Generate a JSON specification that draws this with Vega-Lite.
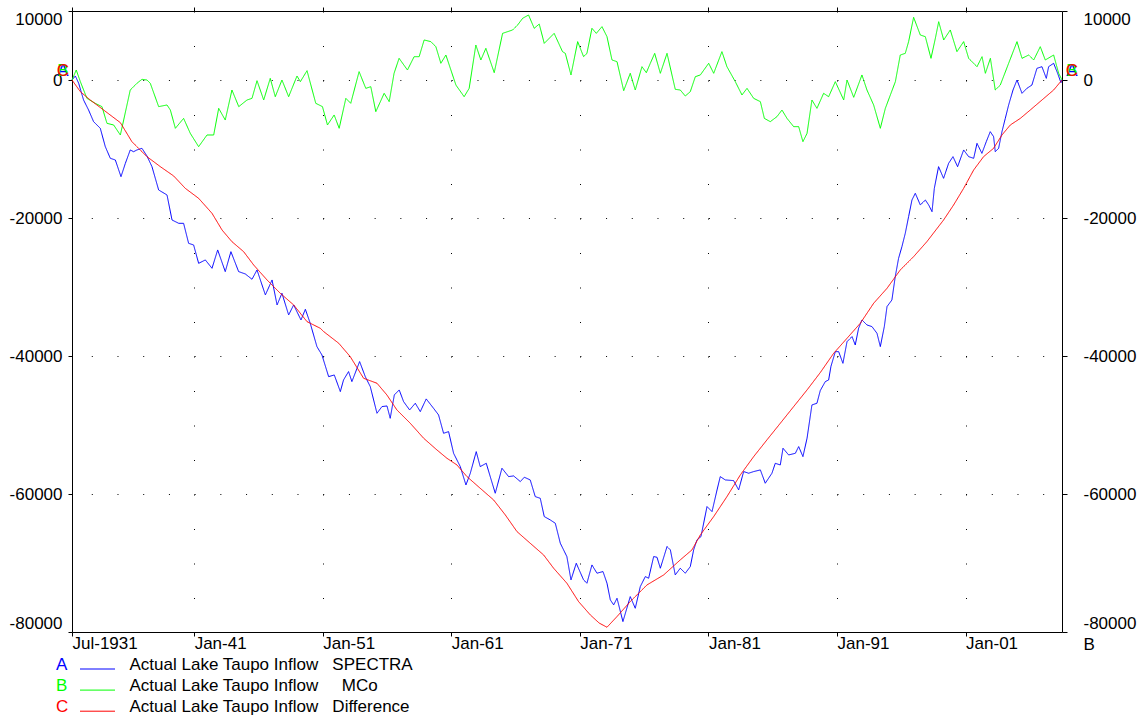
{
"$schema": "https://vega.github.io/schema/vega-lite/v6.json",
"width": 990, "height": 621,
"autosize": {"type": "none"},
"padding": {"left": 72, "top": 11, "right": 82, "bottom": 84},
"background": "white",
"config": {
  "font": "Liberation Sans",
  "view": {"stroke": null},
  "axis": {"labelFont": "Liberation Sans", "labelFontSize": 17, "labelColor": "black", "domainColor": "black", "tickColor": "black", "domainWidth": 1, "tickWidth": 1, "labelOverlap": false},
  "legend": {"labelFont": "Liberation Sans", "labelFontSize": 17, "labelColor": "black"}
},
"datasets": {"names": [
  {"s": "A", "name": "Actual Lake Taupo Inflow\u00a0\u00a0\u00a0SPECTRA"},
  {"s": "B", "name": "Actual Lake Taupo Inflow\u00a0\u00a0\u00a0\u00a0\u00a0MCo"},
  {"s": "C", "name": "Actual Lake Taupo Inflow\u00a0\u00a0\u00a0Difference"}
]},
"data": {"values": [
{"s":"A","t":1931.5,"v":0},{"s":"A","t":1931.76,"v":580},{"s":"A","t":1932.02,"v":-480},{"s":"A","t":1932.4,"v":-2900},{"s":"A","t":1932.79,"v":-4350},{"s":"A","t":1933.18,"v":-6040},{"s":"A","t":1933.7,"v":-7000},{"s":"A","t":1934.09,"v":-9660},{"s":"A","t":1934.48,"v":-11350},{"s":"A","t":1934.87,"v":-11590},{"s":"A","t":1935.31,"v":-14010},{"s":"A","t":1935.65,"v":-12080},{"s":"A","t":1936.03,"v":-10140},{"s":"A","t":1936.29,"v":-10390},{"s":"A","t":1936.55,"v":-10140},{"s":"A","t":1936.94,"v":-9900},{"s":"A","t":1937.33,"v":-11010},{"s":"A","t":1937.72,"v":-12560},{"s":"A","t":1938.24,"v":-15940},{"s":"A","t":1938.89,"v":-16660},{"s":"A","t":1939.28,"v":-20290},{"s":"A","t":1939.8,"v":-20770},{"s":"A","t":1940.18,"v":-20770},{"s":"A","t":1940.57,"v":-23670},{"s":"A","t":1940.96,"v":-23910},{"s":"A","t":1941.35,"v":-26570},{"s":"A","t":1941.87,"v":-26080},{"s":"A","t":1942.39,"v":-27290},{"s":"A","t":1942.83,"v":-24630},{"s":"A","t":1943.42,"v":-27770},{"s":"A","t":1943.86,"v":-24880},{"s":"A","t":1944.46,"v":-27770},{"s":"A","t":1944.98,"v":-28110},{"s":"A","t":1945.5,"v":-28880},{"s":"A","t":1945.89,"v":-27530},{"s":"A","t":1946.54,"v":-31150},{"s":"A","t":1947.06,"v":-28980},{"s":"A","t":1947.45,"v":-32600},{"s":"A","t":1947.83,"v":-30910},{"s":"A","t":1948.35,"v":-34050},{"s":"A","t":1948.74,"v":-32600},{"s":"A","t":1949.31,"v":-34780},{"s":"A","t":1949.65,"v":-33230},{"s":"A","t":1950.03,"v":-35260},{"s":"A","t":1950.55,"v":-38640},{"s":"A","t":1950.94,"v":-39850},{"s":"A","t":1951.46,"v":-42990},{"s":"A","t":1951.9,"v":-42750},{"s":"A","t":1952.37,"v":-45160},{"s":"A","t":1952.62,"v":-43470},{"s":"A","t":1953.01,"v":-42260},{"s":"A","t":1953.27,"v":-43710},{"s":"A","t":1953.87,"v":-40810},{"s":"A","t":1954.31,"v":-42990},{"s":"A","t":1954.7,"v":-44440},{"s":"A","t":1955.22,"v":-48300},{"s":"A","t":1955.61,"v":-47330},{"s":"A","t":1956.0,"v":-47240},{"s":"A","t":1956.25,"v":-49030},{"s":"A","t":1956.57,"v":-45640},{"s":"A","t":1956.95,"v":-44920},{"s":"A","t":1957.29,"v":-46610},{"s":"A","t":1957.76,"v":-47820},{"s":"A","t":1958.2,"v":-46850},{"s":"A","t":1958.59,"v":-48060},{"s":"A","t":1959.05,"v":-46220},{"s":"A","t":1959.62,"v":-47580},{"s":"A","t":1960.01,"v":-48540},{"s":"A","t":1960.4,"v":-51200},{"s":"A","t":1960.79,"v":-50960},{"s":"A","t":1961.18,"v":-54100},{"s":"A","t":1961.7,"v":-56030},{"s":"A","t":1962.14,"v":-58690},{"s":"A","t":1962.48,"v":-56990},{"s":"A","t":1962.94,"v":-53860},{"s":"A","t":1963.25,"v":-56030},{"s":"A","t":1963.72,"v":-55550},{"s":"A","t":1964.03,"v":-57480},{"s":"A","t":1964.42,"v":-59890},{"s":"A","t":1964.94,"v":-56270},{"s":"A","t":1965.46,"v":-57480},{"s":"A","t":1965.85,"v":-57380},{"s":"A","t":1966.37,"v":-58200},{"s":"A","t":1966.68,"v":-57570},{"s":"A","t":1967.14,"v":-57960},{"s":"A","t":1967.53,"v":-60380},{"s":"A","t":1967.92,"v":-60620},{"s":"A","t":1968.23,"v":-63270},{"s":"A","t":1968.7,"v":-63760},{"s":"A","t":1969.09,"v":-64240},{"s":"A","t":1969.48,"v":-67140},{"s":"A","t":1969.99,"v":-69070},{"s":"A","t":1970.31,"v":-72450},{"s":"A","t":1970.72,"v":-70040},{"s":"A","t":1971.29,"v":-72450},{"s":"A","t":1971.55,"v":-72930},{"s":"A","t":1971.94,"v":-70280},{"s":"A","t":1972.33,"v":-71480},{"s":"A","t":1972.8,"v":-71240},{"s":"A","t":1973.11,"v":-72930},{"s":"A","t":1973.37,"v":-75350},{"s":"A","t":1973.63,"v":-76070},{"s":"A","t":1973.89,"v":-75110},{"s":"A","t":1974.35,"v":-78490},{"s":"A","t":1974.92,"v":-74870},{"s":"A","t":1975.31,"v":-76560},{"s":"A","t":1975.7,"v":-73420},{"s":"A","t":1976.09,"v":-71970},{"s":"A","t":1976.35,"v":-72210},{"s":"A","t":1976.74,"v":-69070},{"s":"A","t":1977.0,"v":-69170},{"s":"A","t":1977.26,"v":-70760},{"s":"A","t":1977.78,"v":-67620},{"s":"A","t":1978.04,"v":-68100},{"s":"A","t":1978.42,"v":-71730},{"s":"A","t":1978.81,"v":-70760},{"s":"A","t":1979.2,"v":-71480},{"s":"A","t":1979.59,"v":-70520},{"s":"A","t":1979.85,"v":-68100},{"s":"A","t":1980.11,"v":-66650},{"s":"A","t":1980.42,"v":-66170},{"s":"A","t":1980.89,"v":-61820},{"s":"A","t":1981.28,"v":-62550},{"s":"A","t":1981.67,"v":-59410},{"s":"A","t":1981.92,"v":-57480},{"s":"A","t":1982.31,"v":-57960},{"s":"A","t":1982.96,"v":-58060},{"s":"A","t":1983.35,"v":-59410},{"s":"A","t":1983.74,"v":-56750},{"s":"A","t":1984.13,"v":-56990},{"s":"A","t":1984.52,"v":-56750},{"s":"A","t":1985.04,"v":-56510},{"s":"A","t":1985.42,"v":-58440},{"s":"A","t":1985.94,"v":-56990},{"s":"A","t":1986.2,"v":-55550},{"s":"A","t":1986.59,"v":-55790},{"s":"A","t":1986.8,"v":-53370},{"s":"A","t":1987.24,"v":-54340},{"s":"A","t":1987.76,"v":-54100},{"s":"A","t":1988.02,"v":-53130},{"s":"A","t":1988.35,"v":-54580},{"s":"A","t":1988.67,"v":-51920},{"s":"A","t":1989.05,"v":-47090},{"s":"A","t":1989.44,"v":-46850},{"s":"A","t":1989.7,"v":-45000},{"s":"A","t":1990.09,"v":-43710},{"s":"A","t":1990.35,"v":-43470},{"s":"A","t":1990.53,"v":-41500},{"s":"A","t":1990.87,"v":-39370},{"s":"A","t":1991.13,"v":-39370},{"s":"A","t":1991.46,"v":-41060},{"s":"A","t":1991.78,"v":-37920},{"s":"A","t":1992.17,"v":-37190},{"s":"A","t":1992.42,"v":-38400},{"s":"A","t":1992.68,"v":-35980},{"s":"A","t":1992.94,"v":-34780},{"s":"A","t":1993.33,"v":-35500},{"s":"A","t":1993.72,"v":-35740},{"s":"A","t":1994.11,"v":-36710},{"s":"A","t":1994.37,"v":-38640},{"s":"A","t":1994.68,"v":-35740},{"s":"A","t":1994.89,"v":-32840},{"s":"A","t":1995.27,"v":-31880},{"s":"A","t":1995.53,"v":-28500},{"s":"A","t":1995.79,"v":-25840},{"s":"A","t":1996.05,"v":-24150},{"s":"A","t":1996.31,"v":-22220},{"s":"A","t":1996.57,"v":-19800},{"s":"A","t":1996.83,"v":-17390},{"s":"A","t":1997.09,"v":-16420},{"s":"A","t":1997.48,"v":-18110},{"s":"A","t":1997.87,"v":-17390},{"s":"A","t":1998.13,"v":-18110},{"s":"A","t":1998.39,"v":-19080},{"s":"A","t":1998.57,"v":-15700},{"s":"A","t":1998.9,"v":-12560},{"s":"A","t":1999.29,"v":-14250},{"s":"A","t":1999.68,"v":-12080},{"s":"A","t":2000.02,"v":-11110},{"s":"A","t":2000.38,"v":-12560},{"s":"A","t":2000.85,"v":-10140},{"s":"A","t":2001.24,"v":-11110},{"s":"A","t":2001.63,"v":-11350},{"s":"A","t":2001.89,"v":-9180},{"s":"A","t":2002.27,"v":-10630},{"s":"A","t":2002.61,"v":-8940},{"s":"A","t":2002.92,"v":-7490},{"s":"A","t":2003.18,"v":-8210},{"s":"A","t":2003.31,"v":-10390},{"s":"A","t":2003.57,"v":-9900},{"s":"A","t":2003.83,"v":-7490},{"s":"A","t":2004.09,"v":-5560},{"s":"A","t":2004.35,"v":-3620},{"s":"A","t":2004.69,"v":-1450},{"s":"A","t":2005.0,"v":0},{"s":"A","t":2005.39,"v":-1930},{"s":"A","t":2005.77,"v":-1210},{"s":"A","t":2006.16,"v":-730},{"s":"A","t":2006.55,"v":1690},{"s":"A","t":2006.94,"v":1930},{"s":"A","t":2007.28,"v":240},{"s":"A","t":2007.46,"v":1930},{"s":"A","t":2007.85,"v":2420},{"s":"A","t":2008.16,"v":970},{"s":"A","t":2008.42,"v":-390},{"s":"A","t":2008.5,"v":0},
{"s":"B","t":1931.5,"v":0},{"s":"B","t":1931.83,"v":1450},{"s":"B","t":1932.15,"v":-240},{"s":"B","t":1932.66,"v":-2660},{"s":"B","t":1933.31,"v":-3380},{"s":"B","t":1933.83,"v":-3860},{"s":"B","t":1934.22,"v":-6280},{"s":"B","t":1934.74,"v":-6520},{"s":"B","t":1935.26,"v":-7970},{"s":"B","t":1935.52,"v":-5800},{"s":"B","t":1936.03,"v":-1450},{"s":"B","t":1936.55,"v":-480},{"s":"B","t":1936.94,"v":100},{"s":"B","t":1937.33,"v":0},{"s":"B","t":1937.59,"v":-480},{"s":"B","t":1938.24,"v":-3860},{"s":"B","t":1938.89,"v":-3620},{"s":"B","t":1939.15,"v":-4350},{"s":"B","t":1939.54,"v":-7000},{"s":"B","t":1940.18,"v":-5560},{"s":"B","t":1940.7,"v":-7730},{"s":"B","t":1941.35,"v":-9660},{"s":"B","t":1942.0,"v":-7970},{"s":"B","t":1942.52,"v":-7970},{"s":"B","t":1942.91,"v":-4110},{"s":"B","t":1943.42,"v":-5800},{"s":"B","t":1943.94,"v":-1450},{"s":"B","t":1944.47,"v":-3860},{"s":"B","t":1945.11,"v":-2900},{"s":"B","t":1945.5,"v":-2660},{"s":"B","t":1945.89,"v":-100},{"s":"B","t":1946.41,"v":-2900},{"s":"B","t":1946.92,"v":240},{"s":"B","t":1947.31,"v":-2420},{"s":"B","t":1947.83,"v":0},{"s":"B","t":1948.35,"v":-2420},{"s":"B","t":1949.0,"v":580},{"s":"B","t":1949.26,"v":-240},{"s":"B","t":1949.78,"v":1350},{"s":"B","t":1950.46,"v":-3380},{"s":"B","t":1950.98,"v":-3860},{"s":"B","t":1951.37,"v":-6520},{"s":"B","t":1951.89,"v":-5070},{"s":"B","t":1952.28,"v":-7000},{"s":"B","t":1952.8,"v":-2660},{"s":"B","t":1953.18,"v":-3380},{"s":"B","t":1953.83,"v":1210},{"s":"B","t":1954.35,"v":-1210},{"s":"B","t":1954.74,"v":-970},{"s":"B","t":1955.13,"v":-4590},{"s":"B","t":1955.78,"v":-1930},{"s":"B","t":1956.17,"v":-3140},{"s":"B","t":1956.55,"v":970},{"s":"B","t":1956.94,"v":3140},{"s":"B","t":1957.59,"v":1450},{"s":"B","t":1958.11,"v":3380},{"s":"B","t":1958.5,"v":3380},{"s":"B","t":1958.89,"v":5800},{"s":"B","t":1959.41,"v":5560},{"s":"B","t":1959.8,"v":4830},{"s":"B","t":1960.19,"v":2420},{"s":"B","t":1960.58,"v":3620},{"s":"B","t":1961.36,"v":-730},{"s":"B","t":1962.0,"v":-2420},{"s":"B","t":1962.39,"v":-1210},{"s":"B","t":1962.91,"v":5070},{"s":"B","t":1963.3,"v":2900},{"s":"B","t":1963.69,"v":4590},{"s":"B","t":1964.34,"v":1060},{"s":"B","t":1964.99,"v":6760},{"s":"B","t":1965.77,"v":7250},{"s":"B","t":1966.16,"v":7970},{"s":"B","t":1966.55,"v":8940},{"s":"B","t":1967.01,"v":9420},{"s":"B","t":1967.45,"v":7490},{"s":"B","t":1967.84,"v":8110},{"s":"B","t":1968.23,"v":5310},{"s":"B","t":1969.0,"v":6760},{"s":"B","t":1969.65,"v":4110},{"s":"B","t":1969.87,"v":3860},{"s":"B","t":1970.31,"v":730},{"s":"B","t":1970.83,"v":5560},{"s":"B","t":1971.29,"v":3380},{"s":"B","t":1971.55,"v":3860},{"s":"B","t":1971.94,"v":7490},{"s":"B","t":1972.28,"v":6760},{"s":"B","t":1972.72,"v":7730},{"s":"B","t":1973.11,"v":6280},{"s":"B","t":1973.5,"v":2900},{"s":"B","t":1973.89,"v":2660},{"s":"B","t":1974.41,"v":-1550},{"s":"B","t":1974.92,"v":970},{"s":"B","t":1975.31,"v":-1450},{"s":"B","t":1975.83,"v":1930},{"s":"B","t":1976.17,"v":1060},{"s":"B","t":1976.48,"v":2420},{"s":"B","t":1976.82,"v":3860},{"s":"B","t":1977.26,"v":970},{"s":"B","t":1977.78,"v":3860},{"s":"B","t":1978.42,"v":-1350},{"s":"B","t":1978.81,"v":-1450},{"s":"B","t":1979.2,"v":-2320},{"s":"B","t":1979.59,"v":-1690},{"s":"B","t":1979.98,"v":480},{"s":"B","t":1980.37,"v":730},{"s":"B","t":1981.02,"v":2420},{"s":"B","t":1981.41,"v":970},{"s":"B","t":1982.05,"v":4110},{"s":"B","t":1982.44,"v":1930},{"s":"B","t":1983.09,"v":-240},{"s":"B","t":1983.61,"v":-2170},{"s":"B","t":1984.0,"v":-1210},{"s":"B","t":1984.52,"v":-2660},{"s":"B","t":1985.04,"v":-3140},{"s":"B","t":1985.35,"v":-5560},{"s":"B","t":1985.81,"v":-6040},{"s":"B","t":1986.33,"v":-5310},{"s":"B","t":1986.72,"v":-4350},{"s":"B","t":1987.11,"v":-5560},{"s":"B","t":1987.63,"v":-6760},{"s":"B","t":1988.02,"v":-6760},{"s":"B","t":1988.35,"v":-8940},{"s":"B","t":1988.67,"v":-7730},{"s":"B","t":1989.05,"v":-2900},{"s":"B","t":1989.44,"v":-4110},{"s":"B","t":1989.96,"v":-1930},{"s":"B","t":1990.35,"v":-2420},{"s":"B","t":1990.87,"v":-240},{"s":"B","t":1991.52,"v":-2900},{"s":"B","t":1991.78,"v":0},{"s":"B","t":1992.3,"v":-2510},{"s":"B","t":1992.94,"v":730},{"s":"B","t":1993.33,"v":-1450},{"s":"B","t":1993.85,"v":-3620},{"s":"B","t":1994.37,"v":-7000},{"s":"B","t":1994.76,"v":-4110},{"s":"B","t":1995.15,"v":-2170},{"s":"B","t":1995.54,"v":-240},{"s":"B","t":1995.92,"v":3620},{"s":"B","t":1996.31,"v":3860},{"s":"B","t":1996.57,"v":5560},{"s":"B","t":1996.96,"v":9080},{"s":"B","t":1997.48,"v":6520},{"s":"B","t":1997.87,"v":6280},{"s":"B","t":1998.31,"v":3140},{"s":"B","t":1998.65,"v":6040},{"s":"B","t":1998.91,"v":8450},{"s":"B","t":1999.3,"v":5800},{"s":"B","t":1999.81,"v":7250},{"s":"B","t":2000.33,"v":4110},{"s":"B","t":2000.85,"v":5560},{"s":"B","t":2001.24,"v":3140},{"s":"B","t":2001.89,"v":1930},{"s":"B","t":2002.28,"v":3380},{"s":"B","t":2002.54,"v":970},{"s":"B","t":2002.93,"v":3140},{"s":"B","t":2003.31,"v":-1450},{"s":"B","t":2003.7,"v":-730},{"s":"B","t":2004.35,"v":2420},{"s":"B","t":2005.0,"v":5560},{"s":"B","t":2005.39,"v":3140},{"s":"B","t":2005.91,"v":3620},{"s":"B","t":2006.3,"v":2900},{"s":"B","t":2006.81,"v":4830},{"s":"B","t":2007.2,"v":2900},{"s":"B","t":2007.85,"v":3620},{"s":"B","t":2008.24,"v":970},{"s":"B","t":2008.5,"v":0},
{"s":"C","t":1931.5,"v":0},{"s":"C","t":1932.15,"v":-1690},{"s":"C","t":1932.92,"v":-2900},{"s":"C","t":1933.96,"v":-4350},{"s":"C","t":1935.26,"v":-6180},{"s":"C","t":1936.16,"v":-8940},{"s":"C","t":1937.33,"v":-11110},{"s":"C","t":1938.37,"v":-12560},{"s":"C","t":1939.41,"v":-13910},{"s":"C","t":1940.31,"v":-15700},{"s":"C","t":1941.35,"v":-17150},{"s":"C","t":1942.39,"v":-19320},{"s":"C","t":1943.17,"v":-21740},{"s":"C","t":1943.94,"v":-23430},{"s":"C","t":1944.85,"v":-24880},{"s":"C","t":1945.63,"v":-26810},{"s":"C","t":1946.67,"v":-28980},{"s":"C","t":1947.7,"v":-30910},{"s":"C","t":1948.74,"v":-32600},{"s":"C","t":1949.78,"v":-35020},{"s":"C","t":1950.81,"v":-35980},{"s":"C","t":1951.08,"v":-36470},{"s":"C","t":1952.25,"v":-38160},{"s":"C","t":1953.14,"v":-40090},{"s":"C","t":1954.18,"v":-43230},{"s":"C","t":1955.22,"v":-43950},{"s":"C","t":1955.99,"v":-45640},{"s":"C","t":1956.77,"v":-47820},{"s":"C","t":1957.81,"v":-49750},{"s":"C","t":1958.85,"v":-51920},{"s":"C","t":1959.88,"v":-53610},{"s":"C","t":1960.66,"v":-54820},{"s":"C","t":1961.44,"v":-55790},{"s":"C","t":1962.22,"v":-57480},{"s":"C","t":1963.25,"v":-59170},{"s":"C","t":1964.29,"v":-60860},{"s":"C","t":1965.2,"v":-63030},{"s":"C","t":1966.11,"v":-65450},{"s":"C","t":1967.14,"v":-67140},{"s":"C","t":1968.18,"v":-68830},{"s":"C","t":1968.96,"v":-70760},{"s":"C","t":1969.99,"v":-72930},{"s":"C","t":1970.9,"v":-75590},{"s":"C","t":1971.81,"v":-77520},{"s":"C","t":1972.5,"v":-78700},{"s":"C","t":1973.11,"v":-79310},{"s":"C","t":1973.89,"v":-77760},{"s":"C","t":1974.92,"v":-75590},{"s":"C","t":1976.22,"v":-73180},{"s":"C","t":1977.52,"v":-71730},{"s":"C","t":1978.81,"v":-69550},{"s":"C","t":1979.72,"v":-68100},{"s":"C","t":1980.37,"v":-65930},{"s":"C","t":1981.41,"v":-63270},{"s":"C","t":1982.44,"v":-60380},{"s":"C","t":1983.48,"v":-57240},{"s":"C","t":1984.52,"v":-54580},{"s":"C","t":1985.55,"v":-52160},{"s":"C","t":1986.59,"v":-49750},{"s":"C","t":1987.63,"v":-47330},{"s":"C","t":1988.67,"v":-44920},{"s":"C","t":1989.7,"v":-42400},{"s":"C","t":1990.74,"v":-39610},{"s":"C","t":1991.78,"v":-37430},{"s":"C","t":1992.81,"v":-35260},{"s":"C","t":1993.85,"v":-32360},{"s":"C","t":1994.89,"v":-30190},{"s":"C","t":1995.92,"v":-27530},{"s":"C","t":1996.96,"v":-25600},{"s":"C","t":1997.99,"v":-23430},{"s":"C","t":1999.29,"v":-20290},{"s":"C","t":2000.07,"v":-18110},{"s":"C","t":2000.85,"v":-15700},{"s":"C","t":2001.63,"v":-13040},{"s":"C","t":2002.4,"v":-11110},{"s":"C","t":2003.18,"v":-9900},{"s":"C","t":2003.83,"v":-7970},{"s":"C","t":2004.48,"v":-6520},{"s":"C","t":2005.26,"v":-5560},{"s":"C","t":2006.03,"v":-4350},{"s":"C","t":2006.94,"v":-2900},{"s":"C","t":2007.85,"v":-1450},{"s":"C","t":2008.5,"v":0}
]},
"transform": [{"lookup": "s", "from": {"data": {"name": "names"}, "key": "s", "fields": ["name"]}}],
"layer": [
  {
    "mark": {"type": "line", "strokeWidth": 1, "interpolate": "linear"},
    "encoding": {
      "x": {"field": "t", "type": "quantitative",
        "scale": {"domain": [1931.5, 2008.5], "nice": false, "zero": false},
        "axis": {"orient": "bottom", "values": [1931.5, 1941, 1951, 1961, 1971, 1981, 1991, 2001],
          "labelExpr": "datum.value < 1935 ? 'Jul-1931' : 'Jan-' + format(datum.value % 100, '02d')",
          "labelAlign": "left", "labelFlush": false, "labelBaseline": "top", "labelPadding": -1, "tickSize": 4,
          "grid": true, "gridDash": [1, 33.5], "gridColor": "black", "gridOpacity": 1, "gridWidth": 1,
          "title": "B", "titleAnchor": "end", "titleAlign": "left", "titleX": 1011, "titleY": 12, "titleBaseline": "middle",
          "titleFontSize": 17, "titleFontWeight": "normal", "titleAngle": 0, "titleFont": "Liberation Sans", "titleColor": "black"}},
      "y": {"field": "v", "type": "quantitative",
        "scale": {"domain": [-80000, 10000], "nice": false, "zero": false},
        "axis": {"orient": "left", "values": [-80000, -60000, -40000, -20000, 0, 10000],
          "labelExpr": "'' + datum.value", "labelFlush": true, "tickSize": 4, "labelPadding": 6,
          "grid": true, "gridDash": [1, 24.714], "gridDashOffset": 6.43, "gridColor": "black", "gridOpacity": 1, "gridWidth": 1,
          "title": null}},
      "color": {"field": "name", "type": "nominal",
        "scale": {"domain": ["Actual Lake Taupo Inflow\u00a0\u00a0\u00a0SPECTRA", "Actual Lake Taupo Inflow\u00a0\u00a0\u00a0\u00a0\u00a0MCo", "Actual Lake Taupo Inflow\u00a0\u00a0\u00a0Difference"],
                  "range": ["#0000ff", "#00ff00", "#ff0000"]},
        "legend": {"orient": "none", "legendX": 17, "legendY": 645.5, "title": null, "padding": 0,
          "symbolType": "M-3.5,0.8H3.5", "symbolSize": 100, "symbolStrokeWidth": 1,
          "labelFontSize": 17, "labelOffset": 23.5, "rowPadding": 3.1, "labelLimit": 500}},
      "strokeDash": {"field": "s", "type": "nominal",
        "scale": {"domain": ["A", "B", "C"], "range": [[1, 0], [1, 0], [1, 0]]},
        "legend": {"orient": "none", "legendX": -33, "legendY": 645.5, "title": null, "padding": 0,
          "symbolOpacity": 0, "symbolSize": 1, "labelOffset": 0, "labelFontSize": 17, "rowPadding": 3.1,
          "encode": {"labels": {"update": {"fill": {"signal": "datum.value === 'A' ? '#0000ff' : datum.value === 'B' ? '#00ff00' : '#ff0000'"}}}}}}
    }
  },
  {
    "transform": [{"filter": "datum.t == 1931.5"}],
    "mark": {"type": "text", "dx": -9, "dy": -9, "fontSize": 17, "font": "Liberation Sans"},
    "encoding": {
      "x": {"field": "t", "type": "quantitative",
        "axis": {"orient": "top", "values": [1931.5, 1941, 1951, 1961, 1971, 1981, 1991, 2001], "labels": false, "tickSize": 4, "grid": false, "title": null}},
      "y": {"field": "v", "type": "quantitative",
        "axis": {"orient": "right", "values": [-80000, -60000, -40000, -20000, 0, 10000],
          "labelExpr": "'' + datum.value", "labelFlush": true, "tickSize": 5, "labelPadding": 16, "grid": false, "title": null}},
      "text": {"field": "s"},
      "color": {"field": "name", "type": "nominal"}
    }
  },
  {
    "transform": [{"filter": "datum.t == 2008.5"}],
    "mark": {"type": "text", "dx": 10, "dy": -9, "fontSize": 17, "font": "Liberation Sans"},
    "encoding": {
      "x": {"field": "t", "type": "quantitative", "axis": null},
      "y": {"field": "v", "type": "quantitative", "axis": null},
      "text": {"field": "s"},
      "color": {"field": "name", "type": "nominal"}
    }
  }
],
"resolve": {"axis": {"x": "independent", "y": "independent"}}
}
